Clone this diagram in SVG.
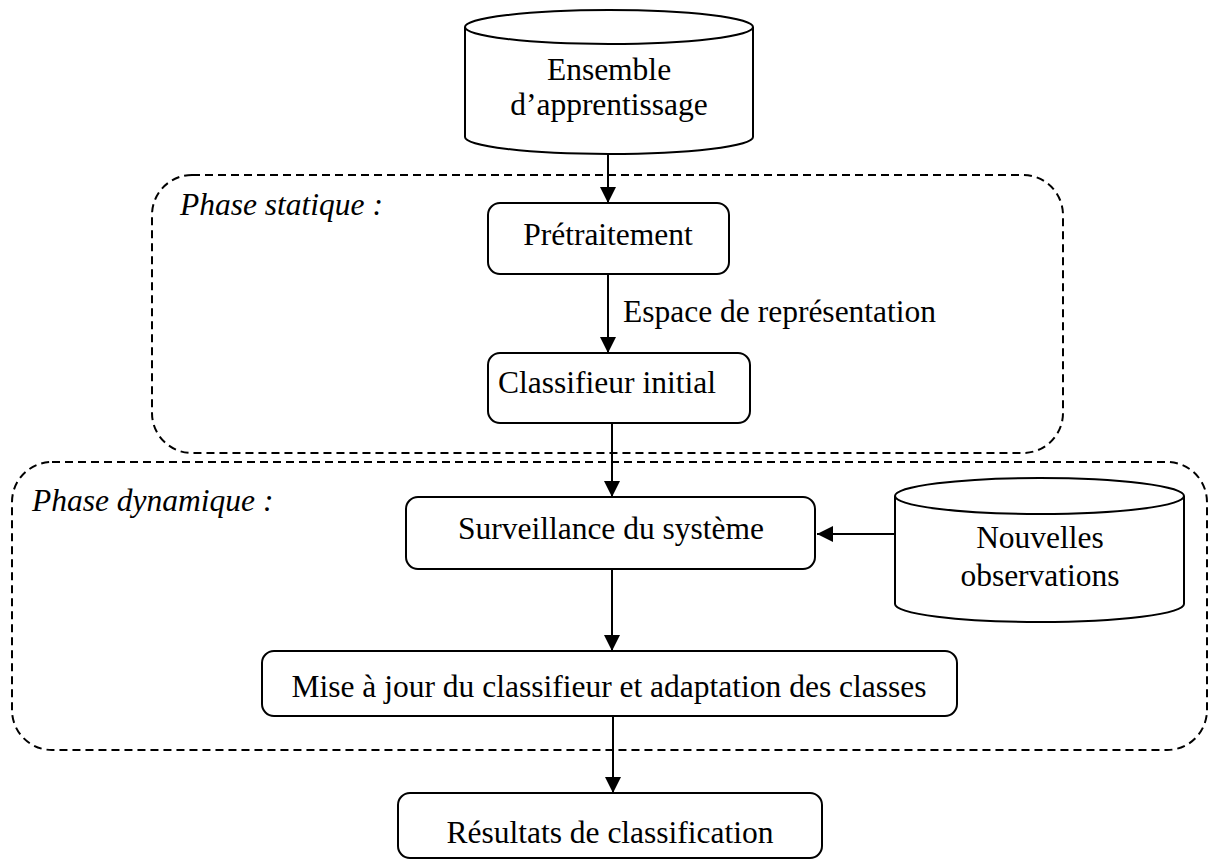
<svg xmlns="http://www.w3.org/2000/svg" width="1212" height="862" viewBox="0 0 1212 862">
<style>
.box{fill:#fff;stroke:#000;stroke-width:2}
.phase{fill:none;stroke:#000;stroke-width:2;stroke-dasharray:8 5}
.t{font-family:"Liberation Serif","Times New Roman",serif;font-size:31.5px;fill:#000;text-anchor:middle}
.ti{font-family:"Liberation Serif","Times New Roman",serif;font-size:31.5px;font-style:italic;fill:#000}
.lbl{font-family:"Liberation Serif","Times New Roman",serif;font-size:31.5px;fill:#000}
.c{stroke:#000;stroke-width:2;fill:none;marker-end:url(#arr)}
</style>
<defs>
<marker id="arr" markerUnits="userSpaceOnUse" markerWidth="16" markerHeight="16" refX="16" refY="8" orient="auto">
<path d="M0,0 L16,8 L0,16 z" fill="#000"/>
</marker>
</defs>
<g id="phase-statique">
<rect class="phase" x="152" y="175" width="911" height="278" rx="40" ry="40"/>
<text class="ti" x="180" y="215">Phase statique :</text>
</g>
<g id="phase-dynamique">
<rect class="phase" x="12" y="462" width="1195" height="288" rx="40" ry="40"/>
<text class="ti" x="32" y="511">Phase dynamique :</text>
</g>
<g id="connectors">
<line class="c" x1="608" y1="154" x2="608" y2="203"/>
<line class="c" x1="608" y1="274" x2="608" y2="353"/>
<text class="lbl" x="623" y="322">Espace de représentation</text>
<line class="c" x1="612" y1="423" x2="612" y2="497"/>
<line class="c" x1="895" y1="534" x2="817" y2="534"/>
<line class="c" x1="612" y1="569" x2="612" y2="651"/>
<line class="c" x1="613" y1="716" x2="613" y2="793"/>
</g>
<g id="ensemble">
<path class="box" d="M465,27 L465,137 A144,17 0 0 0 753,137 L753,27"/>
<ellipse class="box" cx="609" cy="27" rx="144" ry="17"/>
<text class="t" x="609" y="80">Ensemble</text>
<text class="t" x="609" y="115">d’apprentissage</text>
</g>
<g id="pretraitement">
<rect class="box" x="488" y="203" width="241" height="71" rx="12" ry="12"/>
<text class="t" x="608" y="245">Prétraitement</text>
</g>
<g id="classifieur">
<rect class="box" x="488" y="353" width="262" height="70" rx="12" ry="12"/>
<text class="t" x="607" y="393">Classifieur initial</text>
</g>
<g id="surveillance">
<rect class="box" x="406" y="497" width="409" height="72" rx="12" ry="12"/>
<text class="t" x="611" y="539">Surveillance du système</text>
</g>
<g id="nouvelles">
<path class="box" d="M895,496 L895,604 A144.5,18 0 0 0 1184,604 L1184,496"/>
<ellipse class="box" cx="1039.5" cy="496" rx="144.5" ry="18"/>
<text class="t" x="1040" y="548">Nouvelles</text>
<text class="t" x="1040" y="586">observations</text>
</g>
<g id="mise-a-jour">
<rect class="box" x="262" y="651" width="695" height="65" rx="12" ry="12"/>
<text class="t" x="609" y="697">Mise à jour du classifieur et adaptation des classes</text>
</g>
<g id="resultats">
<rect class="box" x="398" y="793" width="424" height="65" rx="12" ry="12"/>
<text class="t" x="610" y="843">Résultats de classification</text>
</g>
</svg>
